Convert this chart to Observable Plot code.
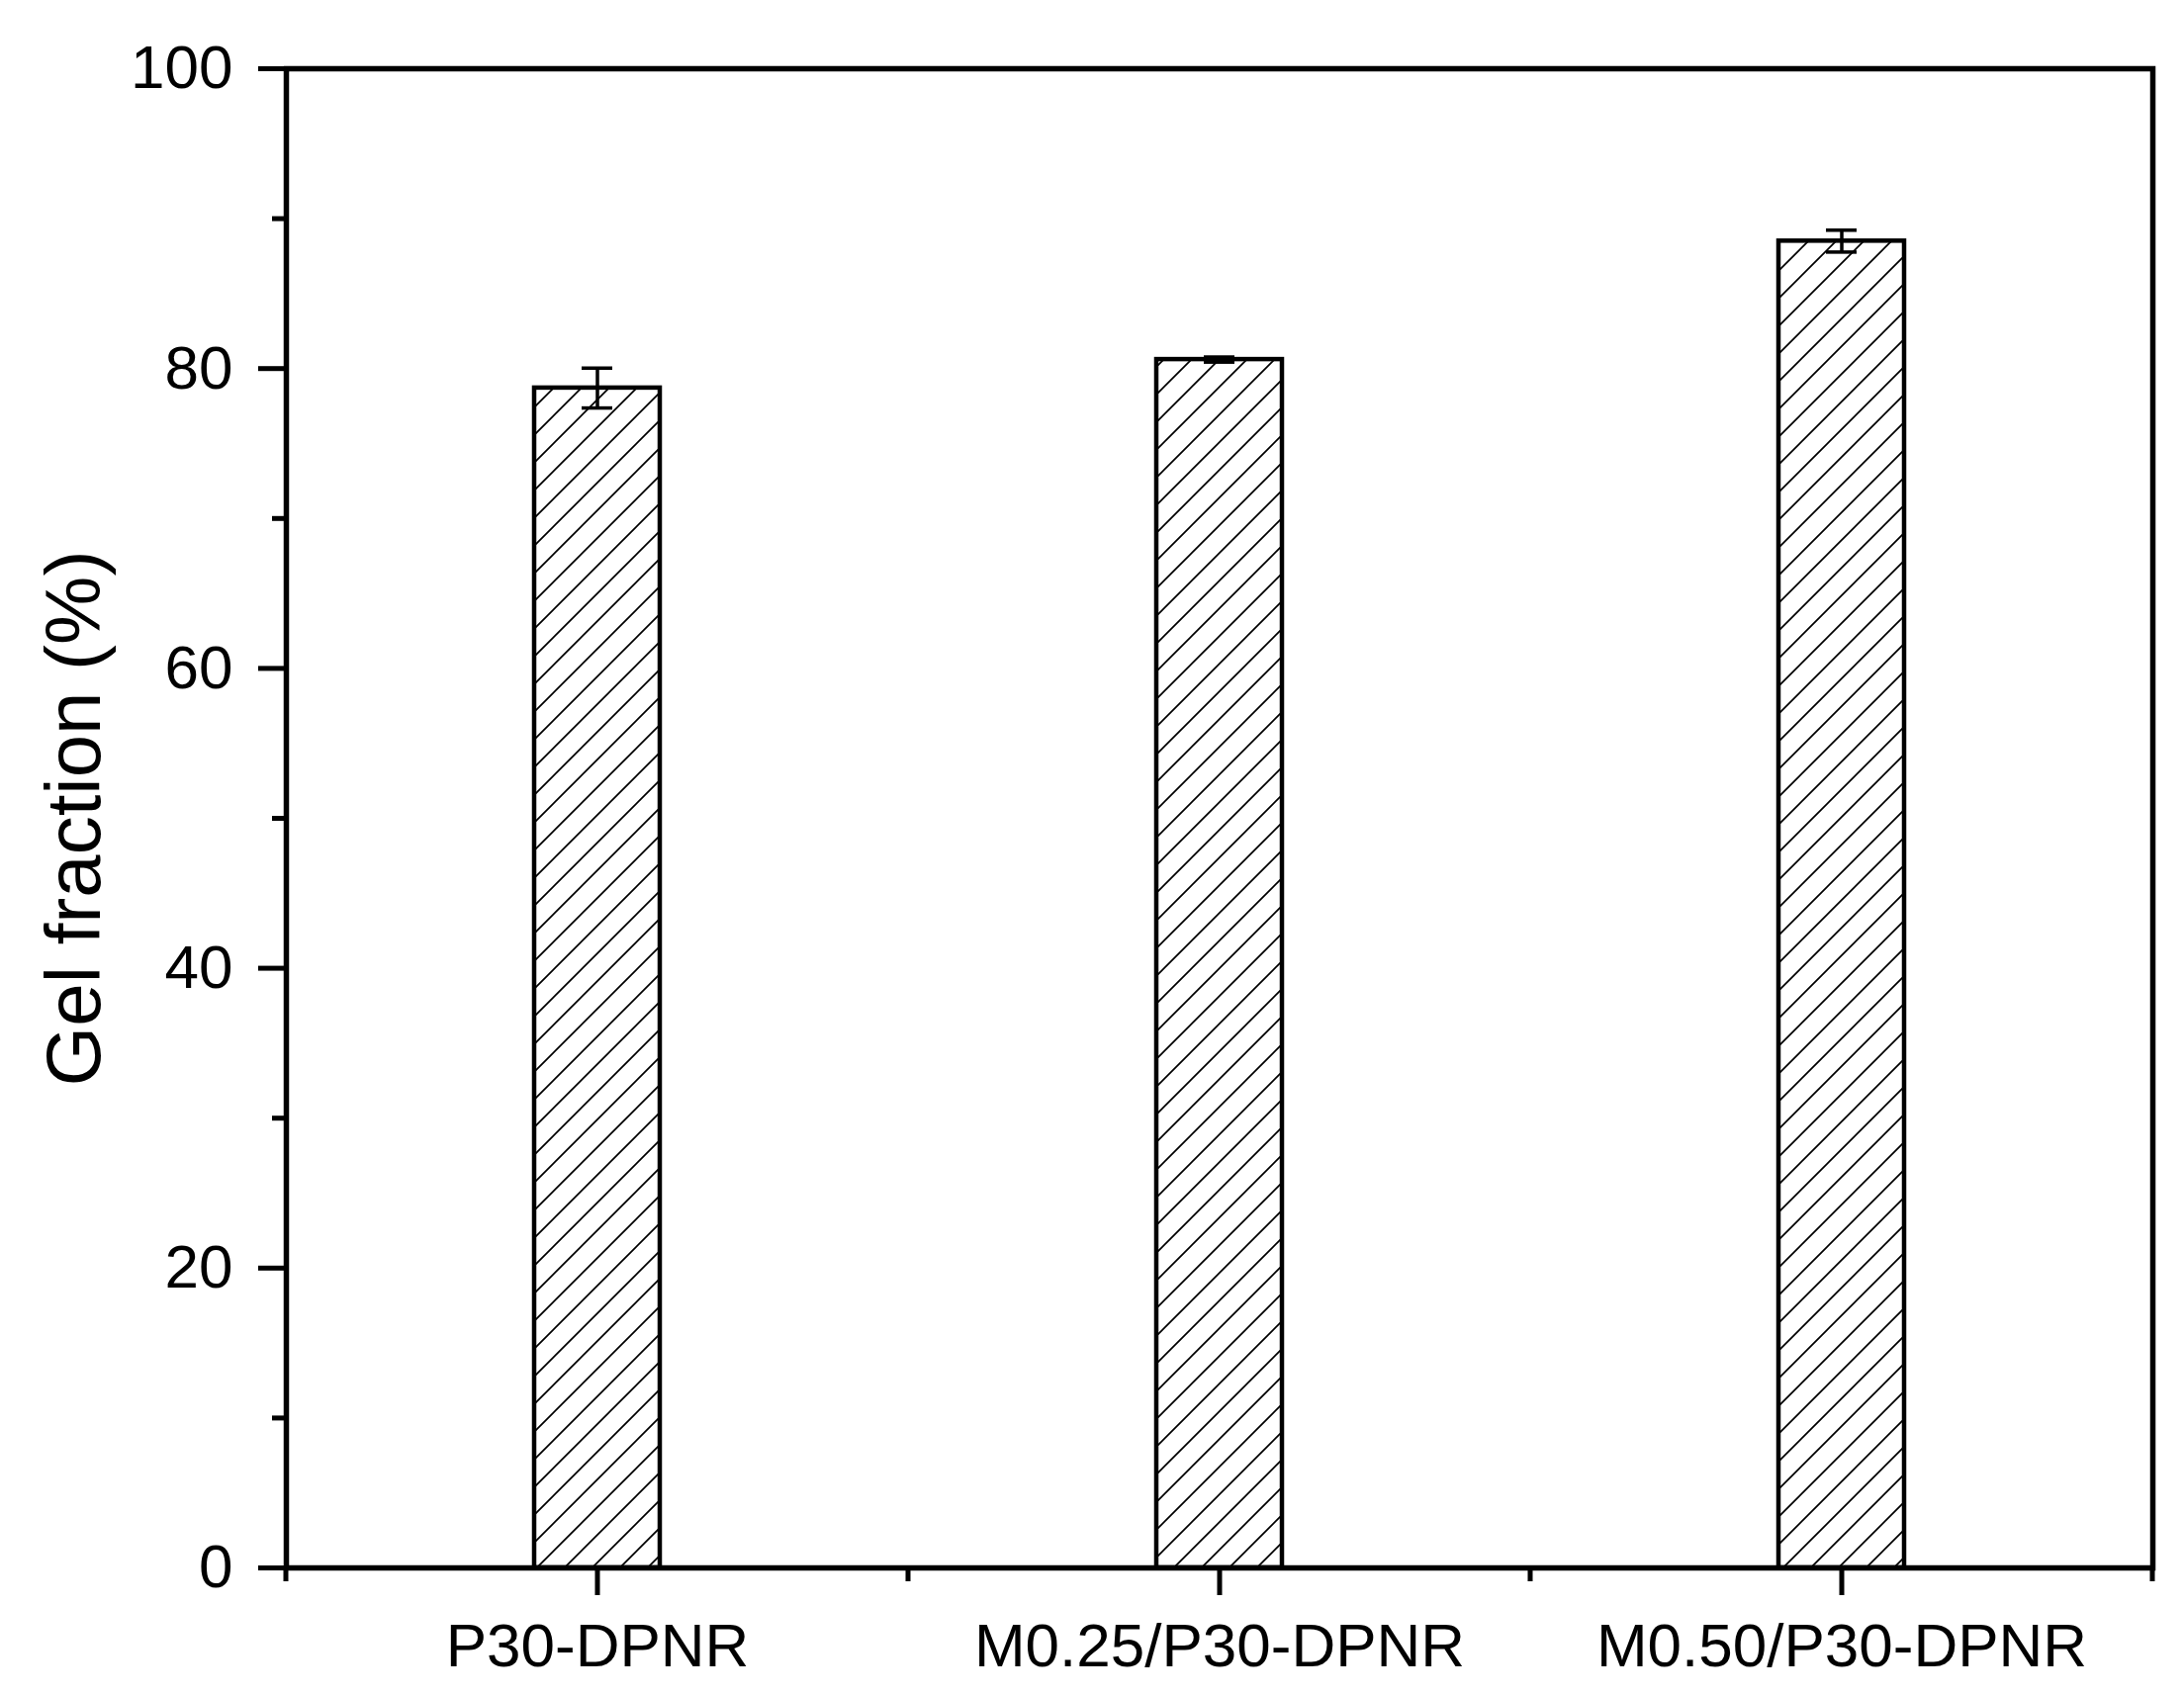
<!DOCTYPE html>
<html>
<head>
<meta charset="utf-8">
<script src="https://cdn.jsdelivr.net/npm/d3@7"></script>
<script src="https://cdn.jsdelivr.net/npm/@observablehq/plot@0.6"></script>
<style>
  html, body { margin: 0; padding: 0; background: white; }
  #chart svg { display: block; }
</style>
</head>
<body>
<div id="chart"></div>
<script>
const categories = ["P30-DPNR", "M0.25/P30-DPNR", "M0.50/P30-DPNR"];
const gelFraction = [78.7, 80.6, 88.5];
const gelError = [1.33, 0.17, 0.73];
const yMajorTicks = [0, 20, 40, 60, 80, 100];
const yMinorTicks = [10, 30, 50, 70, 90];
const yLabel = "Gel fraction (%)";

const data = categories.map((c, i) => ({category: c, value: gelFraction[i], err: gelError[i]}));

const hatchDefs = () => {
  const defs = d3.create("svg:defs");
  const p = defs.append("pattern")
    .attr("id", "hatch")
    .attr("patternUnits", "userSpaceOnUse")
    .attr("width", 28).attr("height", 28);
  p.append("rect").attr("width", 28).attr("height", 28).attr("fill", "white");
  p.append("path")
    .attr("d", "M0,28L28,0M-7,7L7,-7M21,35L35,21")
    .attr("stroke", "black").attr("stroke-width", 1.7).attr("fill", "none");
  return defs.node();
};

const xMinorTicks = (index, scales, values, dimensions) => {
  const x = scales.x, y = scales.y;
  let bw = x.bandwidth;
  bw = typeof bw === "function" ? bw() : (bw ?? (x(categories[1]) - x(categories[0])));
  const edges = [x(categories[0]), ...categories.map(c => x(c) + bw)];
  const y0 = y(0);
  const g = d3.create("svg:g").attr("stroke", "black").attr("stroke-width", 5);
  for (const e of edges) {
    g.append("line").attr("x1", e).attr("x2", e).attr("y1", y0).attr("y2", y0 + 14);
  }
  return g.node();
};

const chart = Plot.plot({
  width: 2208,
  height: 1714,
  marginLeft: 289,
  marginRight: 32,
  marginTop: 69,
  marginBottom: 129,
  style: {fontFamily: "'Liberation Sans', Arial, sans-serif", background: "white", color: "black"},
  x: {domain: categories, padding: 0, axis: null, label: null},
  y: {domain: [0, 100], axis: null, label: null},
  marks: [
    hatchDefs,
    Plot.barY(data, {x: "category", y: "value", fill: "url(#hatch)", stroke: "black", strokeWidth: 4.5, insetLeft: 251, insetRight: 251}),
    Plot.ruleX(data, {x: "category", y1: d => d.value - d.err, y2: d => d.value + d.err, stroke: "black", strokeWidth: 3.5}),
    Plot.tickY(data, {x: "category", y: d => d.value + d.err, stroke: "black", strokeWidth: 3.5, insetLeft: 299, insetRight: 299}),
    Plot.tickY(data, {x: "category", y: d => d.value - d.err, stroke: "black", strokeWidth: 3.5, insetLeft: 299, insetRight: 299}),
    Plot.axisY(yMinorTicks, {tickSize: 14, strokeWidth: 5, tickFormat: () => "", label: null}),
    Plot.axisY(yMajorTicks, {tickSize: 28, strokeWidth: 5, tickPadding: 26, fontSize: 62, label: null}),
    Plot.axisX(categories, {tickSize: 28, strokeWidth: 5, tickPadding: 27, fontSize: 62, label: null}),
    xMinorTicks,
    Plot.text([yLabel], {text: d => d, frameAnchor: "left", rotate: -90, dx: -189, lineAnchor: "bottom", textAnchor: "middle", fontSize: 78, fill: "black"}),
    Plot.frame({stroke: "black", strokeWidth: 5.5})
  ]
});

document.getElementById("chart").appendChild(chart);
</script>
</body>
</html>
